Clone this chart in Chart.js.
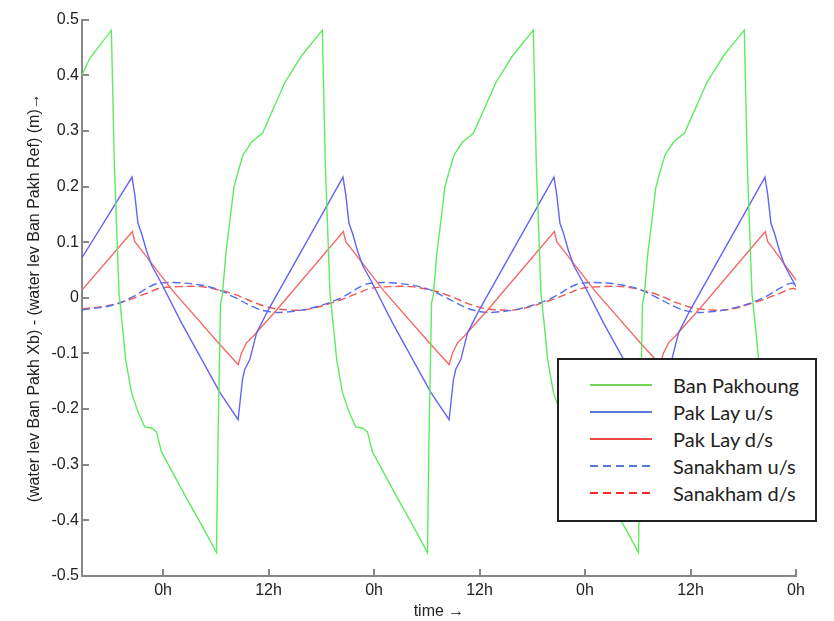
<!DOCTYPE html>
<html lang="en">
<head>
  <meta charset="UTF-8">
  <title>Water level difference Ban Pakhoung</title>
  <style>
    html, body {
      margin: 0;
      padding: 0;
      background: #fff;
    }
    #wrap {
      position: relative;
      width: 834px;
      height: 621px;
    }
    #legend {
      position: absolute;
      left: 557px;
      top: 358px;
      width: 260px;
      height: 164px;
      box-sizing: border-box;
      border: 2px solid #222;
      background: #fff;
      font-family: Lato, "Noto Sans", sans-serif;
      font-size: 20px;
      color: #222;
    }
    #legend .row {
      position: absolute;
      left: 0;
      width: 100%;
      height: 26px;
      line-height: 26px;
    }
    #legend .sample {
      position: absolute;
      left: 31px;
      top: 12px;
      width: 62px;
      height: 2px;
    }
    #legend .label {
      position: absolute;
      left: 114px;
      top: 0;
    }
  </style>
  <script src="https://cdn.jsdelivr.net/npm/chart.js"></script>
</head>
<body>
  <div id="wrap">
    <canvas id="myChart" width="834" height="621"></canvas>
    <div id="legend"></div>
  </div>

  <script>
    // x in hours after the first 0h tick, y in metres
    const greenHours = [-9.22, -8.35,
      -5.88, -5.54, -5.01, -4.62, -4.25, -3.60, -2.85, -2.09, -1.32, -0.75, -0.18, 2.67, 4.75, 6.08, 6.26, 6.54, 6.77, 7.14, 7.60, 8.05, 8.54, 9.11, 10.07, 11.32, 13.86, 15.76,
      18.12, 18.46, 18.99, 19.38, 19.75, 20.40, 21.15, 21.91, 22.68, 23.25, 23.82, 26.67, 28.75, 30.08, 30.26, 30.54, 30.77, 31.14, 31.60, 32.05, 32.54, 33.11, 34.07, 35.32, 37.86, 39.76,
      42.12, 42.46, 42.99, 43.38, 43.75, 44.40, 45.15, 45.91, 46.68, 47.25, 47.82, 50.67, 52.75, 54.08, 54.26, 54.54, 54.77, 55.14, 55.60, 56.05, 56.54, 57.11, 58.07, 59.32, 61.86, 63.76,
      66.12, 66.46, 66.99, 67.38, 67.75, 68.40, 69.15, 69.91, 70.68, 71.25, 71.82, 72];
    const banPakhoung = [0.400, 0.430,
      0.481, 0.239, 0.008, -0.051, -0.111, -0.170, -0.205, -0.232, -0.234, -0.241, -0.277, -0.360, -0.419, -0.458, -0.246, -0.010, 0.008, 0.079, 0.138, 0.198, 0.227, 0.257, 0.280, 0.296, 0.387, 0.435,
      0.481, 0.239, 0.008, -0.051, -0.111, -0.170, -0.205, -0.232, -0.234, -0.241, -0.277, -0.360, -0.419, -0.458, -0.246, -0.010, 0.008, 0.079, 0.138, 0.198, 0.227, 0.257, 0.280, 0.296, 0.387, 0.435,
      0.481, 0.239, 0.008, -0.051, -0.111, -0.170, -0.205, -0.232, -0.234, -0.241, -0.277, -0.360, -0.419, -0.458, -0.246, -0.010, 0.008, 0.079, 0.138, 0.198, 0.227, 0.257, 0.280, 0.296, 0.387, 0.435,
      0.481, 0.239, 0.008, -0.051, -0.111, -0.170, -0.205, -0.232, -0.234, -0.241, -0.277, -0.282];

    const pakLayUsHours = [-9.22,
      -3.53, -3.22, -2.85, -2.43, -1.89, -1.29, -0.38, 2.10, 6.46, 8.54, 9.04, 9.31, 9.87, 10.64, 11.96,
      20.47, 20.78, 21.15, 21.57, 22.11, 22.71, 23.62, 26.10, 30.46, 32.54, 33.04, 33.31, 33.87, 34.64, 35.96,
      44.47, 44.78, 45.15, 45.57, 46.11, 46.71, 47.62, 50.10, 54.46, 56.54, 57.04, 57.31, 57.87, 58.64, 59.96,
      68.47, 68.78, 69.15, 69.57, 70.11, 70.71, 72];
    const pakLayUs = [0.072,
      0.217, 0.186, 0.134, 0.115, 0.085, 0.058, 0.032, -0.045, -0.170, -0.219, -0.146, -0.128, -0.111, -0.063, -0.022,
      0.217, 0.186, 0.134, 0.115, 0.085, 0.058, 0.032, -0.045, -0.170, -0.219, -0.146, -0.128, -0.111, -0.063, -0.022,
      0.217, 0.186, 0.134, 0.115, 0.085, 0.058, 0.032, -0.045, -0.170, -0.219, -0.146, -0.128, -0.111, -0.063, -0.022,
      0.217, 0.186, 0.134, 0.115, 0.085, 0.058, 0.020];

    const pakLayDsHours = [-9.22,
      -3.49, -3.22, -2.73, 1.14, 6.46, 8.54, 8.93, 9.50, 10.25, 12.92,
      20.51, 20.78, 21.27, 25.14, 30.46, 32.54, 32.93, 33.50, 34.25, 36.92,
      44.51, 44.78, 45.27, 49.14, 54.46, 56.54, 56.93, 57.50, 58.25, 60.92,
      68.51, 68.78, 69.27, 72];
    const pakLayDs = [0.014,
      0.119, 0.101, 0.091, 0.012, -0.084, -0.120, -0.099, -0.081, -0.069, -0.022,
      0.119, 0.101, 0.091, 0.012, -0.084, -0.120, -0.099, -0.081, -0.069, -0.022,
      0.119, 0.101, 0.091, 0.012, -0.084, -0.120, -0.099, -0.081, -0.069, -0.022,
      0.119, 0.101, 0.091, 0.032];

    const sanakhamUsHours = [-9.22, -5.69, -3.42, -1.14, 0.19, 1.90, 4.18, 6.08, 7.97, 10.64, 12.15, 13.67, 16.71, 20.13,
      22.86, 24.19, 25.90, 28.18, 30.08, 31.97, 34.64, 36.15, 37.67, 40.71, 44.13,
      46.86, 48.19, 49.90, 52.18, 54.08, 55.97, 58.64, 60.15, 61.67, 64.71, 68.13,
      70.86, 71.60, 72];
    const sanakhamUs = [-0.022, -0.013, 0.002, 0.023, 0.027, 0.027, 0.023, 0.016, 0.002, -0.019, -0.025, -0.026, -0.019, -0.001,
      0.023, 0.027, 0.027, 0.023, 0.016, 0.002, -0.019, -0.025, -0.026, -0.019, -0.001,
      0.023, 0.027, 0.027, 0.023, 0.016, 0.002, -0.019, -0.025, -0.026, -0.019, -0.001,
      0.023, 0.026, 0.020];

    const sanakhamDsHours = [-9.22, -6.64, -4.56, -1.89, -0.38, 1.90, 4.18, 6.08, 7.97, 11.77, 14.43, 16.71, 20.13,
      22.11, 23.62, 25.90, 28.18, 30.08, 31.97, 35.77, 38.43, 40.71, 44.13,
      46.11, 47.62, 49.90, 52.18, 54.08, 55.97, 59.77, 62.43, 64.71, 68.13,
      70.11, 71.62, 72];
    const sanakhamDs = [-0.020, -0.015, -0.007, 0.008, 0.017, 0.020, 0.020, 0.015, 0.007, -0.016, -0.022, -0.020, -0.004,
      0.008, 0.017, 0.020, 0.020, 0.015, 0.007, -0.016, -0.022, -0.020, -0.004,
      0.008, 0.017, 0.020, 0.020, 0.015, 0.007, -0.016, -0.022, -0.020, -0.004,
      0.008, 0.017, 0.015];

    const xTickHours = [0, 12, 24, 36, 48, 60, 72];
    const xTickLabels = ['0h', '12h', '0h', '12h', '0h', '12h', '0h'];
    const yTickValues = [-0.5, -0.4, -0.3, -0.2, -0.1, 0, 0.1, 0.2, 0.3, 0.4, 0.5];
    const yTickLabels = ['-0.5', '-0.4', '-0.3', '-0.2', '-0.1', '0', '0.1', '0.2', '0.3', '0.4', '0.5'];

    const seriesNames = ['Ban Pakhoung', 'Pak Lay u/s', 'Pak Lay d/s', 'Sanakham u/s', 'Sanakham d/s'];

    function pts(xs, ys) {
      return xs.map((x, i) => ({ x: x, y: ys[i] }));
    }

    const tickFont = { family: '"Liberation Sans", Arial, sans-serif', size: 16 };

    const series = [
      { data: pts(greenHours, banPakhoung), color: 'rgb(95,235,95)', dash: [], tension: 0, key: '#72d85a' },
      { data: pts(pakLayUsHours, pakLayUs), color: 'rgb(100,100,245)', dash: [], tension: 0, key: '#5a78dc' },
      { data: pts(pakLayDsHours, pakLayDs), color: 'rgb(245,105,105)', dash: [], tension: 0, key: '#ee4848' },
      { data: pts(sanakhamUsHours, sanakhamUs), color: 'rgb(85,110,240)', dash: [8, 4], tension: 0.4, key: '#5a78dc' },
      { data: pts(sanakhamDsHours, sanakhamDs), color: 'rgb(240,85,85)', dash: [8, 4], tension: 0.4, key: '#ff2a2a' }
    ];

    const ctx = document.getElementById('myChart').getContext('2d');
    const myChart = new Chart(ctx, {
      type: 'line',
      data: {
        datasets: series.map((s, i) => ({
          label: seriesNames[i],
          data: s.data,
          borderColor: s.color,
          borderWidth: 1.4,
          borderDash: s.dash,
          pointRadius: 0,
          tension: s.tension,
          fill: false
        }))
      },
      options: {
        responsive: false,
        animation: false,
        devicePixelRatio: 1,
        layout: { padding: { left: 0, right: 38, top: 14, bottom: 0 } },
        plugins: {
          legend: { display: false },
          tooltip: { enabled: false }
        },
        scales: {
          x: {
            type: 'linear',
            min: -9.22,
            max: 72,
            afterBuildTicks: (s) => { s.ticks = xTickHours.map(v => ({ value: v })); },
            afterFit: (s) => { s.height = 45; },
            ticks: {
              autoSkip: false,
              maxRotation: 0,
              padding: 12,
              color: '#222',
              font: tickFont,
              callback: (v, i) => xTickLabels[i]
            },
            grid: { drawOnChartArea: false, tickLength: -7, color: '#888', lineWidth: 2 },
            border: { color: '#888', width: 2 },
            title: {
              display: true,
              text: 'time →',
              color: '#222',
              font: tickFont,
              padding: { top: 0, bottom: 0 }
            }
          },
          y: {
            min: -0.5,
            max: 0.5,
            afterBuildTicks: (s) => { s.ticks = yTickValues.map(v => ({ value: v })); },
            afterFit: (s) => { s.width = 82; },
            ticks: {
              padding: 10,
              color: '#222',
              font: tickFont,
              callback: (v, i) => yTickLabels[i]
            },
            grid: { drawOnChartArea: false, tickLength: -7, color: '#888', lineWidth: 2 },
            border: { color: '#888', width: 2 },
            title: {
              display: true,
              text: '(water lev Ban Pakh Xb) - (water lev Ban Pakh Ref) (m)→',
              color: '#222',
              font: tickFont,
              padding: { top: 25, bottom: 0 }
            }
          }
        }
      }
    });

    // legend box drawn over the plot, like the original figure
    const legend = document.getElementById('legend');
    series.forEach((s, i) => {
      const row = document.createElement('div');
      row.className = 'row';
      row.style.top = (12 + i * 26.9) + 'px';
      const sample = document.createElement('div');
      sample.className = 'sample';
      if (s.dash.length) {
        sample.style.background = `repeating-linear-gradient(to right, ${s.key} 0 8px, transparent 8px 13px)`;
      } else {
        sample.style.background = s.key;
      }
      const label = document.createElement('span');
      label.className = 'label';
      label.textContent = seriesNames[i];
      row.appendChild(sample);
      row.appendChild(label);
      legend.appendChild(row);
    });
  </script>
</body>
</html>
